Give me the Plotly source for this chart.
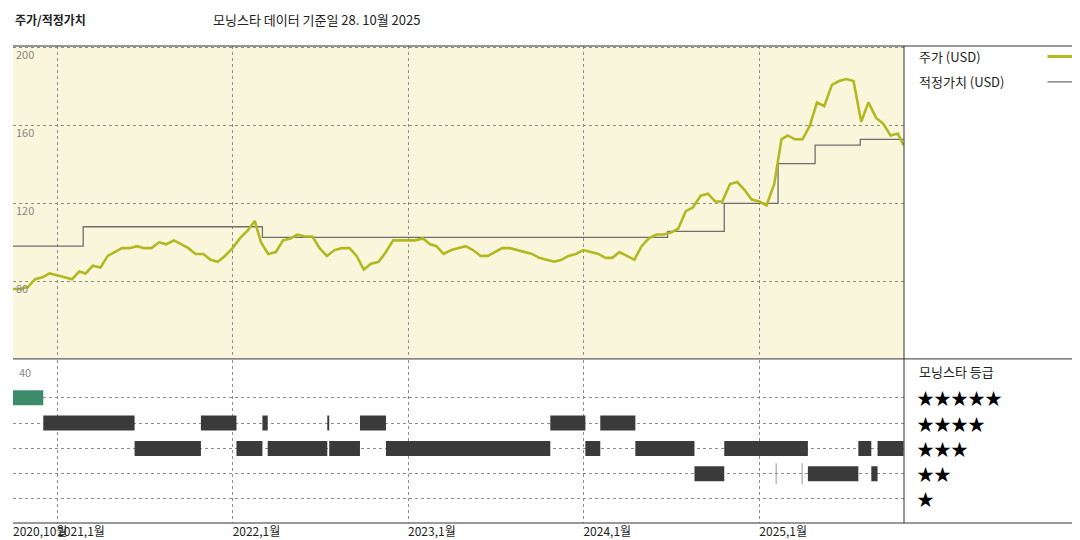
import pandas as pd
import plotly.graph_objects as go

# -----------------------
# Data
# -----------------------
price_dates = [
    "2020-10-01", "2020-10-16", "2020-11-01", "2020-11-16", "2020-12-01", "2020-12-16",
    "2021-01-01", "2021-01-16", "2021-02-01", "2021-02-16", "2021-03-01", "2021-03-16",
    "2021-04-01", "2021-04-16", "2021-05-01", "2021-05-16", "2021-06-01", "2021-06-16",
    "2021-07-01", "2021-07-16", "2021-08-01", "2021-08-16", "2021-09-01", "2021-09-16",
    "2021-10-01", "2021-10-16", "2021-11-01", "2021-11-16", "2021-12-01", "2021-12-16",
    "2022-01-01", "2022-01-16", "2022-02-01", "2022-02-16", "2022-03-01", "2022-03-16",
    "2022-04-01", "2022-04-16", "2022-05-01", "2022-05-16", "2022-06-01", "2022-06-16",
    "2022-07-01", "2022-07-16", "2022-08-01", "2022-08-16", "2022-09-01", "2022-09-16",
    "2022-10-01", "2022-10-16", "2022-11-01", "2022-11-16", "2022-12-01", "2022-12-16",
    "2023-01-01", "2023-01-16", "2023-02-01", "2023-02-16", "2023-03-01", "2023-03-16",
    "2023-04-01", "2023-04-16", "2023-05-01", "2023-05-16", "2023-06-01", "2023-06-16",
    "2023-07-01", "2023-07-16", "2023-08-01", "2023-08-16", "2023-09-01", "2023-09-16",
    "2023-10-01", "2023-10-16", "2023-11-01", "2023-11-16", "2023-12-01", "2023-12-16",
    "2024-01-01", "2024-01-16", "2024-02-01", "2024-02-16", "2024-03-01", "2024-03-16",
    "2024-04-01", "2024-04-16", "2024-05-01", "2024-05-16", "2024-06-01", "2024-06-16",
    "2024-07-01", "2024-07-16", "2024-08-01", "2024-08-16", "2024-09-01", "2024-09-16",
    "2024-10-01", "2024-10-16", "2024-11-01", "2024-11-16", "2024-12-01", "2024-12-16",
    "2025-01-01", "2025-01-16", "2025-02-01", "2025-02-16", "2025-03-01", "2025-03-16",
    "2025-04-01", "2025-04-16", "2025-05-01", "2025-05-16", "2025-06-01", "2025-06-16",
    "2025-07-01", "2025-07-16", "2025-08-01", "2025-08-16", "2025-09-01", "2025-09-16",
    "2025-10-01", "2025-10-16", "2025-10-28",
]
price_values = [
    76, 76, 77, 81, 82, 84,
    83, 82, 81, 85, 84, 88, 87, 93, 95, 97, 97, 98, 97, 97, 100, 99, 101, 99, 97, 94, 94, 91, 90, 93,
    97, 102, 106, 111, 100, 94, 95, 101, 102, 104, 103, 103, 97, 93, 96, 97, 97, 93, 86, 89, 90, 95, 101, 101,
    101, 101, 102, 99, 98, 94, 96, 97, 98, 96, 93, 93, 95, 97, 97, 96, 95, 94, 92, 91, 90, 91, 93, 94,
    96, 95, 94, 92, 92, 95, 93, 91, 98, 102, 104, 104, 105, 107, 116, 118, 124, 125, 121, 121, 130, 131, 127, 122,
    121, 119, 130, 153, 155, 153, 153, 160, 172, 170, 181, 183, 184, 183, 162, 172, 164, 161, 155, 156, 150,
]

fair_dates = ["2020-10-01", "2021-02-24", "2022-03-04", "2024-06-24", "2024-10-20",
              "2025-02-09", "2025-04-27", "2025-07-30", "2025-10-28"]
fair_values = [98, 108, 102.5, 105.6, 120, 140.5, 150, 153, 153]

# Morningstar rating periods: (start, end, stars)
rating_periods = [
    ("2020-10-01", "2020-12-03", 5),
    ("2020-12-03", "2021-06-11", 4),
    ("2021-06-11", "2021-10-27", 3),
    ("2021-10-27", "2022-01-09", 4),
    ("2022-01-09", "2022-03-04", 3),
    ("2022-03-04", "2022-03-15", 4),
    ("2022-03-15", "2022-07-17", 3),
    ("2022-07-17", "2022-07-21", 4),
    ("2022-07-21", "2022-09-23", 3),
    ("2022-09-23", "2022-11-16", 4),
    ("2022-11-16", "2023-10-24", 3),
    ("2023-10-24", "2024-01-05", 4),
    ("2024-01-05", "2024-02-05", 3),
    ("2024-02-05", "2024-04-18", 4),
    ("2024-04-18", "2024-08-19", 3),
    ("2024-08-19", "2024-10-20", 2),
    ("2024-10-20", "2025-04-12", 3),
    ("2025-04-12", "2025-07-26", 2),
    ("2025-07-26", "2025-08-22", 3),
    ("2025-08-22", "2025-09-04", 2),
    ("2025-09-04", "2025-10-28", 3),
]
rating_blips = [("2025-02-05", 2), ("2025-03-31", 2)]

tick_dates = ["2020-10-01", "2021-01-01", "2022-01-01", "2023-01-01", "2024-01-01", "2025-01-01"]
tick_labels = ["2020,10월", "2021,1월", "2022,1월", "2023,1월", "2024,1월", "2025,1월"]
star_labels = ["★★★★★", "★★★★", "★★★", "★★", "★"]

FONT = "Noto Sans CJK KR"
GREEN = "#b3b821"
BG = "#f9f6dc"

fig = go.Figure()

# price + fair value
fig.add_trace(go.Scatter(x=pd.to_datetime(fair_dates), y=fair_values, mode="lines",
                         line=dict(color="#6e6e6e", width=1.3, shape="hv"),
                         xaxis="x", yaxis="y", showlegend=False))
fig.add_trace(go.Scatter(x=pd.to_datetime(price_dates), y=price_values, mode="lines",
                         line=dict(color=GREEN, width=2.6),
                         xaxis="x", yaxis="y", showlegend=False))

# rating bars
def seg_xy(periods, stars):
    xs, ys = [], []
    for s, e, r in periods:
        if r == stars:
            xs += [s, e, None]
            ys += [r, r, None]
    return xs, ys

for stars in [5, 4, 3, 2]:
    xs, ys = seg_xy(rating_periods, stars)
    fig.add_trace(go.Scatter(x=xs, y=ys, mode="lines",
                             line=dict(color="#3c8c6c" if stars == 5 else "#3a3a3a", width=15),
                             xaxis="x2", yaxis="y2", showlegend=False))
fig.add_trace(go.Scatter(x=[d for d, _ in rating_blips], y=[r for _, r in rating_blips],
                         mode="markers", marker=dict(symbol="line-ns", size=15,
                                                     line=dict(color="#9a9a9a", width=1)),
                         xaxis="x2", yaxis="y2", showlegend=False))

xrange = ["2020-10-01", "2025-10-29"]
grid = dict(showgrid=True, gridcolor="#8c8c8c", griddash="dot", gridwidth=1, zeroline=False,
            automargin=False)

fig.update_layout(
    width=1080, height=540,
    margin=dict(l=5, r=184, t=38, b=25),
    paper_bgcolor="white",
    font=dict(family=FONT, size=12, color="#222"),
    xaxis=dict(domain=[0, 1], range=xrange, anchor="y", tickvals=tick_dates,
               showticklabels=False, ticks="", **grid),
    yaxis=dict(domain=[0.346, 1], range=[40.5, 201], tickvals=[80, 120, 160, 200],
               ticklabelposition="inside bottom", tickfont=dict(color="#888", size=11),
               ticks="", **grid),
    xaxis2=dict(domain=[0, 1], range=xrange, anchor="y2", tickvals=tick_dates,
                ticktext=tick_labels, ticklabelposition="outside right", tickangle=0,
                tickfont=dict(size=12, color="#222"), ticks="", **grid),
    yaxis2=dict(domain=[0, 0.342], range=[0.05, 6.5], tickvals=[1, 2, 3, 4, 5],
                showticklabels=False, ticks="", **grid),
    plot_bgcolor="white",
)

# backgrounds and frame
fig.add_shape(type="rect", xref="x domain", yref="y domain", x0=0, x1=1, y0=0, y1=1,
              fillcolor=BG, line=dict(width=0), layer="below")
frame = dict(color="#333", width=1)
fig.add_shape(type="line", xref="paper", yref="paper", x0=0, x1=1.205, y0=1, y1=1, line=frame)
fig.add_shape(type="line", xref="paper", yref="paper", x0=0, x1=1.205, y0=0.344, y1=0.344, line=frame)
fig.add_shape(type="line", xref="paper", yref="paper", x0=0, x1=1.205, y0=0, y1=0, line=frame)
fig.add_shape(type="line", xref="paper", yref="paper", x0=1, x1=1, y0=0, y1=1, line=frame)

# titles
fig.add_annotation(xref="paper", yref="paper", x=0, y=1.055, xanchor="left", yanchor="middle",
                   text="<b>주가/적정가치</b>", showarrow=False, font=dict(size=12))
fig.add_annotation(xref="paper", yref="paper", x=0.222, y=1.055, xanchor="left", yanchor="middle",
                   text="모닝스타 데이터 기준일 28. 10월 2025", showarrow=False, font=dict(size=13))
fig.add_annotation(xref="paper", yref="paper", x=0.004, y=0.338, xanchor="left", yanchor="top",
                   text="40", showarrow=False, font=dict(size=11, color="#888"))

# right-side legend panel
fig.add_annotation(xref="paper", yref="paper", x=1.015, y=0.978, xanchor="left", yanchor="middle",
                   text="주가 (USD)", showarrow=False, font=dict(size=13))
fig.add_annotation(xref="paper", yref="paper", x=1.015, y=0.925, xanchor="left", yanchor="middle",
                   text="적정가치 (USD)", showarrow=False, font=dict(size=13))
fig.add_shape(type="line", xref="paper", yref="paper", x0=1.161, x1=1.197, y0=0.978, y1=0.978,
              line=dict(color=GREEN, width=3))
fig.add_shape(type="line", xref="paper", yref="paper", x0=1.161, x1=1.197, y0=0.925, y1=0.925,
              line=dict(color="#6e6e6e", width=1.3))
fig.add_annotation(xref="paper", yref="paper", x=1.015, y=0.318, xanchor="left", yanchor="middle",
                   text="모닝스타 등급", showarrow=False, font=dict(size=13))
for i, s in enumerate(star_labels):
    fig.add_annotation(xref="paper", yref="y2", x=1.012, y=5 - i, xanchor="left", yanchor="middle",
                       text=s, showarrow=False, font=dict(size=17, color="#000"))

fig.write_html("out.html")
